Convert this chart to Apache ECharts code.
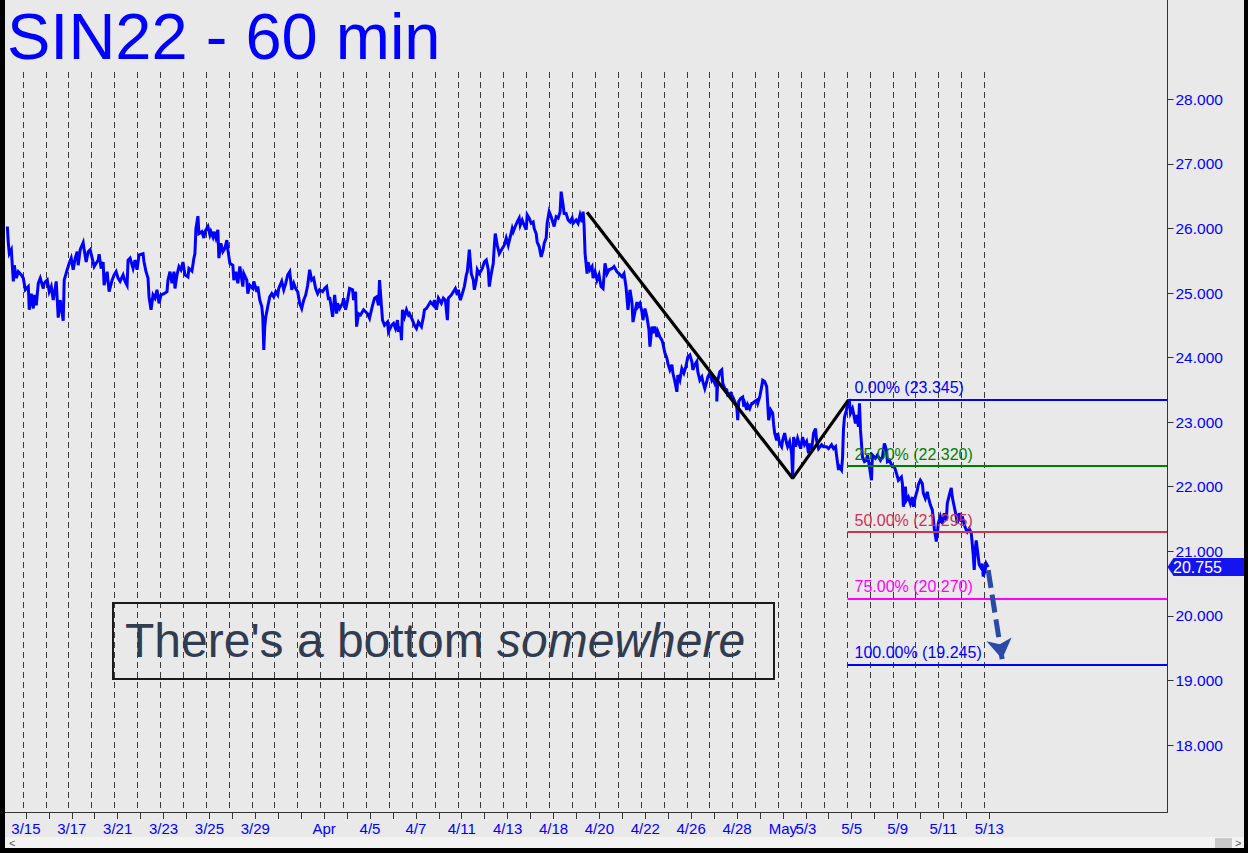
<!DOCTYPE html>
<html>
<head>
<meta charset="utf-8">
<script src="https://cdn.jsdelivr.net/npm/echarts@6/dist/echarts.min.js"></script>
<style>
html,body{margin:0;padding:0;background:#e9e9e9;}
#chart{width:1248px;height:853px;}
</style>
</head>
<body>
<div id="chart"></div>
<script>
// ---------------- DATA ----------------
const chartTitle = 'SIN22 - 60 min';
// trading days shown on the time axis (Good Friday 4/15 closed)
const tradingDays = ['3/15','3/16','3/17','3/18','3/21','3/22','3/23','3/24','3/25','3/28','3/29','3/30','3/31',
  '4/1','4/4','4/5','4/6','4/7','4/8','4/11','4/12','4/13','4/14','4/18','4/19','4/20','4/21','4/22','4/25','4/26','4/27','4/28','4/29',
  '5/2','5/3','5/4','5/5','5/6','5/9','5/10','5/11','5/12','5/13'];
const axisLabels = ['3/15','','3/17','','3/21','','3/23','','3/25','','3/29','','',
  'Apr','','4/5','','4/7','','4/11','','4/13','','4/18','','4/20','','4/22','','4/26','','4/28','',
  'May','5/3','','5/5','','5/9','','5/11','','5/13'];
const daysBefore = ['3/14'];
const daysAfter = ['5/16','5/17','5/18','5/19','5/20','5/23','5/24','5/25'];
const barsOnScreen = 1167.7;

// hourly closes: [bar number, price]
const pricePoints = [
[5,26.03],[6,25.77],[7,25.61],[9,25.67],[11,25.18],[12,25.43],[14,25.23],[16,25.33],[19,25.28],[21,25.23],
[23,25.05],[26,25.10],[27,24.74],[29,24.99],[31,24.76],[32,24.97],[34,24.81],[36,25.15],[38,25.23],[41,25.07],
[42,25.15],[45,25.20],[47,25.02],[49,25.10],[51,24.89],[54,25.18],[56,24.62],[58,24.89],[61,24.57],[62,25.20],
[65,25.36],[67,25.46],[69,25.54],[71,25.36],[73,25.54],[75,25.64],[76,25.43],[78,25.67],[81,25.78],[82,25.67],
[84,25.48],[86,25.64],[88,25.67],[90,25.54],[92,25.41],[96,25.51],[97,25.60],[99,25.38],[101,25.48],[102,25.12],
[105,25.33],[107,25.02],[110,25.20],[112,25.28],[114,25.33],[116,25.23],[118,25.18],[121,25.28],[123,25.18],[125,25.12],
[126,25.51],[128,25.54],[131,25.38],[133,25.51],[135,25.36],[137,25.59],[141,25.61],[142,25.48],[144,25.33],[146,25.23],
[147,24.94],[149,24.74],[151,24.97],[153,24.92],[155,25.05],[157,24.84],[159,24.97],[162,24.99],[165,25.02],[166,25.20],
[168,25.33],[170,25.15],[172,25.33],[173,25.07],[175,25.28],[177,25.41],[179,25.36],[181,25.48],[183,25.28],[186,25.25],
[187,25.38],[190,25.34],[192,25.54],[193,25.61],[194,26.00],[196,26.19],[197,25.92],[200,25.95],[202,25.85],[203,25.95],
[206,26.03],[208,25.90],[209,25.95],[211,25.87],[212,25.95],[214,25.85],[216,25.98],[217,25.54],[219,25.77],[221,25.64],
[223,25.69],[225,25.82],[226,25.67],[228,25.46],[231,25.43],[232,25.20],[234,25.33],[236,25.15],[238,25.41],[241,25.10],
[242,25.30],[245,25.20],[246,24.99],[248,25.12],[251,25.07],[252,25.18],[255,25.02],[256,25.10],[258,24.89],[260,24.79],
[261,24.63],[262,24.12],[263,24.48],[264,24.63],[266,24.79],[268,24.94],[270,24.99],[272,24.94],[274,25.02],[276,24.97],
[277,25.07],[280,25.18],[282,25.05],[284,25.15],[286,25.28],[288,25.33],[290,25.05],[292,25.15],[294,25.07],[296,25.02],
[298,24.84],[300,24.76],[302,24.89],[304,24.97],[306,25.12],[308,25.36],[310,25.20],[312,25.23],[314,25.07],[316,24.99],
[318,25.05],[321,25.02],[323,25.07],[325,25.10],[327,24.89],[328,24.94],[330,24.74],[331,24.63],[333,24.97],[335,24.68],
[336,24.84],[338,24.76],[341,24.84],[342,24.92],[344,24.74],[346,24.89],[348,25.07],[351,25.05],[352,24.89],[354,25.02],
[355,24.48],[357,24.68],[359,24.66],[362,24.74],[364,24.71],[366,24.68],[368,24.61],[371,24.81],[373,24.92],[375,24.94],
[377,24.81],[378,25.20],[380,24.79],[381,24.58],[383,24.50],[386,24.55],[387,24.40],[390,24.50],[392,24.53],[394,24.45],
[396,24.58],[397,24.40],[399,24.48],[400,24.27],[401,24.74],[403,24.63],[405,24.74],[407,24.66],[408,24.68],[411,24.58],
[413,24.50],[415,24.45],[417,24.55],[420,24.48],[422,24.63],[423,24.74],[425,24.76],[427,24.81],[429,24.86],[432,24.81],
[433,24.89],[435,24.74],[437,24.92],[440,24.84],[442,24.92],[444,24.89],[446,24.58],[447,24.92],[450,24.97],[452,25.02],
[454,25.07],[456,24.97],[457,25.05],[459,24.89],[461,24.99],[463,25.10],[465,25.28],[466,25.33],[468,25.67],[470,25.30],
[472,25.20],[473,25.05],[475,25.20],[476,25.36],[478,25.30],[481,25.38],[483,25.48],[485,25.51],[487,25.36],[488,25.10],
[490,25.30],[492,25.46],[493,25.72],[494,25.92],[496,25.74],[498,25.61],[501,25.69],[503,25.74],[505,25.85],[507,25.74],
[509,25.87],[511,26.00],[512,25.95],[514,26.03],[516,26.10],[518,26.16],[519,26.05],[521,26.13],[523,26.05],[525,25.98],
[526,26.21],[528,26.16],[530,26.08],[532,26.10],[533,26.00],[535,25.92],[536,25.79],[538,25.72],[540,25.56],[542,25.67],
[543,25.77],[545,25.85],[546,26.08],[548,26.26],[550,26.18],[552,26.08],[553,26.03],[555,26.18],[557,26.16],[559,26.26],
[560,26.57],[562,26.36],[563,26.23],[565,26.23],[567,26.13],[569,26.10],[571,26.16],[572,26.08],[575,26.13],[577,26.08],
[579,26.21],[581,26.10],[582,26.26],[583,26.05],[584,25.61],[586,25.30],[587,25.48],[589,25.36],[591,25.41],[592,25.23],
[594,25.33],[596,25.20],[598,25.28],[600,25.10],[602,25.07],[604,25.46],[606,25.30],[608,25.36],[611,25.38],[613,25.41],
[616,25.33],[618,25.30],[621,25.25],[623,25.30],[625,25.10],[627,24.74],[629,25.05],[631,24.86],[632,24.55],[634,24.71],
[636,24.86],[637,24.79],[639,24.84],[641,24.71],[642,24.58],[644,24.76],[646,24.63],[648,24.43],[649,24.17],[651,24.48],
[652,24.38],[654,24.48],[656,24.32],[657,24.40],[659,24.32],[661,24.27],[662,24.22],[664,24.07],[666,23.99],[667,23.91],
[669,23.81],[671,23.89],[672,23.76],[674,23.63],[676,23.47],[677,23.73],[679,23.65],[681,23.83],[683,23.76],[685,23.86],
[687,24.01],[689,24.04],[691,23.94],[692,23.81],[694,23.89],[696,23.94],[697,23.78],[699,23.65],[701,23.70],[702,23.63],
[704,23.52],[706,23.63],[707,23.70],[709,23.76],[711,23.65],[712,23.68],[714,23.60],[716,23.68],[716,23.32],[717,23.65],
[719,23.78],[721,23.81],[722,23.60],[724,23.52],[726,23.50],[727,23.42],[730,23.45],[732,23.39],[734,23.32],[736,23.24],
[737,23.03],[738,23.32],[740,23.37],[742,23.39],[743,23.24],[744,23.29],[746,23.19],[747,23.27],[749,23.21],[751,23.29],
[752,23.29],[754,23.32],[756,23.34],[757,23.29],[759,23.39],[761,23.55],[762,23.65],[764,23.63],[766,23.55],[767,23.29],
[768,23.03],[770,23.19],[772,23.14],[773,22.96],[774,22.83],[776,22.72],[777,22.83],[779,22.67],[781,22.62],[782,22.72],
[784,22.83],[786,22.67],[787,22.62],[789,22.70],[791,22.52],[792,22.15],[793,22.77],[795,22.62],[797,22.75],[800,22.59],
[802,22.77],[804,22.65],[806,22.70],[808,22.52],[809,22.67],[811,22.57],[813,22.83],[815,22.90],[816,22.72],[818,22.59],
[821,22.65],[823,22.62],[826,22.62],[828,22.59],[831,22.65],[833,22.59],[835,22.62],[836,22.49],[838,22.26],[839,22.31],
[841,22.26],[842,22.44],[843,22.90],[844,23.08],[846,23.19],[847,23.27],[849,23.31],[850,23.14],[852,23.21],[853,23.14],
[855,22.98],[856,23.11],[858,22.93],[859,23.29],[860,22.88],[861,22.67],[862,22.46],[864,22.39],[866,22.41],[867,22.49],
[869,22.31],[871,22.10],[872,22.49],[875,22.44],[877,22.49],[880,22.41],[882,22.46],[884,22.67],[886,22.57],[887,22.39],
[889,22.41],[892,22.31],[894,22.31],[896,22.21],[898,22.10],[901,22.15],[902,22.05],[903,21.69],[905,22.00],[906,21.79],
[908,21.84],[910,21.74],[912,21.84],[913,21.69],[915,21.84],[917,21.95],[918,22.03],[920,22.10],[922,22.05],[923,21.90],
[925,21.82],[927,21.92],[928,21.84],[930,21.72],[932,21.64],[933,21.51],[934,21.35],[936,21.15],[937,21.28],[938,21.43],
[940,21.54],[942,21.43],[944,21.59],[946,21.48],[947,21.74],[949,21.87],[951,21.98],[952,21.84],[954,21.69],[956,21.54],
[957,21.43],[959,21.59],[961,21.46],[962,21.54],[964,21.41],[966,21.33],[967,21.30],[969,21.35],[971,21.28],[972,21.12],
[973,20.94],[974,20.71],[975,21.02],[976,21.17],[978,20.92],[979,20.79],[981,20.74],[982,20.81],[983,20.61],[985,20.71],
[986,20.81],[988,20.755]
];
const lastPrice = 20.755;
// hand-drawn swing line (high -> low -> high)
const swingLine = [[586,26.25],[792,22.13],[848,23.345]];
// Fibonacci projection levels
const fibStartBar = 847;
const fibPercents = ['0.00%','25.00%','50.00%','75.00%','100.00%'];
const fibValues = [23.345, 22.320, 21.295, 20.270, 19.245];
// dashed projection arrow
const projectionArrow = [[988,20.71],[1002,19.33]];
// price axis
const priceMin = 18, priceMax = 28, priceStep = 1;
const note = ["There's a bottom ", 'somewhere'];

// ---------------- STYLE ----------------
const FONT = '"Liberation Sans", Arial, Helvetica, sans-serif';
const BLUE = '#0000ff';
const fibColors = ['#0000ff','#008000','#cc3355','#ff00ff','#0000ff'];
const BG = '#e9e9e9';

const categories = daysBefore.concat(tradingDays, daysAfter);
const firstDay = daysBefore.length, lastDay = daysBefore.length + tradingDays.length - 1;
const isDay = (i) => i >= firstDay && i <= lastDay;

const chart = echarts.init(document.getElementById('chart'), null, {renderer: 'svg', width: 1248, height: 853});

const fibMarkData = fibValues.map((v, i) => [
  {coord: [fibStartBar, v], lineStyle: {color: fibColors[i]},
   label: {formatter: fibPercents[i] + ' (' + v.toFixed(3) + ')', color: fibColors[i]}},
  {coord: [barsOnScreen, v]}
]);

const option = {
  backgroundColor: BG,
  animation: false,
  title: {
    text: chartTitle, left: 7, top: 4, padding: 0,
    textStyle: {color: BLUE, fontSize: 65, fontWeight: 'normal', fontFamily: FONT}
  },
  grid: [
    {left: 2.35, top: 99.3, width: 1165.15, height: 645.7},   // price
    {left: -2.95, top: 72, width: 1170.45, height: 740},      // session lines
    {left: 2.35, top: 72, width: 1170.45, height: 740}        // date ticks / labels
  ],
  xAxis: [
    {gridIndex: 0, type: 'value', min: 0, max: barsOnScreen, show: false},
    {gridIndex: 1, type: 'category', data: categories, boundaryGap: false,
     axisLine: {show: true, onZero: false, lineStyle: {color: '#333', width: 1}},
     axisTick: {show: false}, axisLabel: {show: false},
     splitLine: {show: true, interval: (i) => isDay(i), lineStyle: {color: '#3a3a3a', width: 1, type: [6, 4]}}},
    {gridIndex: 2, type: 'category', data: categories, boundaryGap: false,
     axisLine: {show: false, onZero: false},
     axisTick: {show: true, length: 7, interval: (i) => isDay(i), lineStyle: {color: '#333'}},
     axisLabel: {show: true, interval: 0, margin: 9, color: BLUE, fontSize: 15, fontFamily: FONT,
       formatter: (v, i) => isDay(i) ? axisLabels[i - firstDay] : ''},
     splitLine: {show: false}}
  ],
  yAxis: [
    {gridIndex: 0, type: 'value', position: 'right', min: priceMin, max: priceMax, interval: priceStep,
     axisLine: {show: false, onZero: false},
     axisTick: {show: true, length: 6, lineStyle: {color: '#333'}},
     axisLabel: {color: BLUE, fontSize: 15.5, fontFamily: FONT, margin: 8, formatter: (v) => v.toFixed(3)},
     splitLine: {show: false}},
    {gridIndex: 1, type: 'value', min: 0, max: 1, show: false},
    {gridIndex: 2, type: 'value', min: 0, max: 1, show: false}
  ],
  series: [
    {
      name: 'fib', type: 'line', xAxisIndex: 0, yAxisIndex: 0, data: [], z: 1,
      markLine: {
        silent: true, symbol: ['none', 'none'],
        lineStyle: {type: 'solid', width: 2},
        label: {show: true, position: 'insideStartTop', distance: [7, 4], fontSize: 16, fontFamily: FONT},
        data: fibMarkData
      }
    },
    {
      name: 'SIN22', type: 'line', xAxisIndex: 0, yAxisIndex: 0, data: pricePoints,
      showSymbol: false, z: 3, clip: false,
      lineStyle: {color: BLUE, width: 3, join: 'miter'}
    },
    {
      name: 'swing', type: 'line', xAxisIndex: 0, yAxisIndex: 0, data: swingLine,
      showSymbol: false, z: 4,
      lineStyle: {color: '#000', width: 3.2}
    },
    {
      name: 'projection', type: 'line', xAxisIndex: 0, yAxisIndex: 0, data: [], z: 5, clip: false,
      markLine: {
        silent: true, symbol: ['none', 'arrow'], symbolSize: [19, 20],
        lineStyle: {color: '#2a49a8', width: 5, type: [18, 7]},
        itemStyle: {color: '#2a49a8'},
        label: {show: false},
        data: [[{coord: projectionArrow[0]}, {coord: projectionArrow[1]}]]
      }
    },
    {
      name: 'last', type: 'line', xAxisIndex: 0, yAxisIndex: 0, data: [], z: 6, clip: false,
      markPoint: {
        silent: true,
        symbol: 'path://M0,9 L6,0 L80,0 L80,18 L6,18 Z',
        symbolSize: [80, 18], symbolKeepAspect: false, symbolOffset: [40, 0],
        itemStyle: {color: '#1414f0'},
        label: {show: true, position: 'inside', offset: [-10, 0], color: '#fff', fontSize: 16, fontFamily: FONT,
          formatter: lastPrice.toFixed(3)},
        data: [{coord: [barsOnScreen, lastPrice]}]
      }
    }
  ],
  graphic: [
    {type: 'line', z: 50, shape: {x1: 1167.5, y1: 0, x2: 1167.5, y2: 812}, style: {stroke: '#333', lineWidth: 1}},
    {type: 'rect', z: 40, shape: {x: 5, y: 837, width: 1239, height: 11}, style: {fill: '#f3f3f3'}},
    {type: 'rect', z: 41, shape: {x: 1215, y: 838, width: 17, height: 10}, style: {fill: '#c9c9c9'}},
    {type: 'text', z: 42, style: {x: 9, y: 842.5, text: '<', fill: '#555', font: '11px ' + FONT, verticalAlign: 'middle'}},
    {type: 'text', z: 42, style: {x: 1235, y: 842.5, text: '>', fill: '#555', font: '11px ' + FONT, verticalAlign: 'middle'}},
    {type: 'rect', z: 100, shape: {x: 0, y: 0, width: 5, height: 853}, style: {fill: '#000'}},
    {type: 'rect', z: 100, shape: {x: 1244, y: 0, width: 4, height: 853}, style: {fill: '#000'}},
    {type: 'rect', z: 100, shape: {x: 0, y: 848, width: 1248, height: 5}, style: {fill: '#000'}},
    {type: 'rect', z: 20, shape: {x: 113, y: 603, width: 661, height: 76}, style: {fill: 'none', stroke: '#1a1a1a', lineWidth: 2}},
    {type: 'text', z: 21, style: {
      x: 125, y: 640, verticalAlign: 'middle',
      text: '{a|' + note[0] + '}{b|' + note[1] + '}',
      rich: {
        a: {fill: '#323c50', fontSize: 48, fontFamily: FONT},
        b: {fill: '#323c50', fontSize: 48, fontFamily: FONT, fontStyle: 'italic'}
      }
    }}
  ]
};
chart.setOption(option);
</script>
</body>
</html>
